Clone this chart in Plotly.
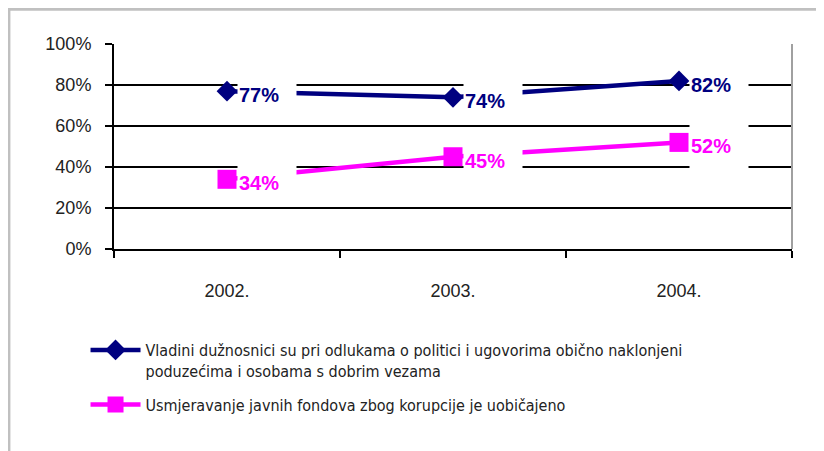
import plotly.graph_objects as go

years = ['2002.', '2003.', '2004.']
officials = [0.77, 0.74, 0.82]
funds = [0.34, 0.45, 0.52]
officials_name = 'Vladini dužnosnici su pri odlukama o politici i ugovorima obično naklonjeni<br>poduzećima i osobama s dobrim vezama'
funds_name = 'Usmjeravanje javnih fondova zbog korupcije je uobičajeno'

navy = '#000080'
pink = '#FF00FF'

fig = go.Figure()
fig.add_trace(go.Scatter(x=years, y=officials, name=officials_name, mode='lines+markers',
                         legendgroup='a',
                         line=dict(color=navy, width=4.5),
                         marker=dict(symbol='diamond', size=16, color=navy)))
fig.add_trace(go.Scatter(x=years, y=funds, name=funds_name, mode='lines+markers',
                         legendgroup='b',
                         line=dict(color=pink, width=4.5),
                         marker=dict(symbol='square', size=19, color=pink)))

# data labels with white boxes (they hide gridlines and lines like in the original)
# category index is used for x, "2002." would be read as a number
for vals, col in [(officials, navy), (funds, pink)]:
    for i, v in enumerate(vals):
        fig.add_annotation(x=i, y=v, text='%d%%' % round(v * 100), showarrow=False,
                           xanchor='left', xshift=10, yshift=-4, width=56, height=42,
                           align='left', bgcolor='white', borderpad=1,
                           font=dict(family='Liberation Sans', size=20, color=col, weight='bold'))

# plot area right border + outer frame (the svg starts 8px into the page)
fig.add_shape(type='line', xref='paper', yref='paper', x0=1, x1=1, y0=0, y1=1,
              line=dict(color='#a0a0a0', width=2))
fig.add_shape(type='line', xref='paper', yref='paper', x0=-0.16, x1=1.06, y0=1.17, y1=1.17,
              line=dict(color='#c0c0c0', width=3))
fig.add_shape(type='line', xref='paper', yref='paper', x0=-0.155, x1=-0.155, y0=1.18, y1=-1.0,
              line=dict(color='#c0c0c0', width=3))

fig.update_xaxes(type='category', range=[-0.5, 2.5], tickson='boundaries', ticks='outside', ticklen=7,
                 tickwidth=2, tickcolor='black', showline=True, linecolor='black', linewidth=2,
                 showgrid=False, ticklabelstandoff=24, tickangle=0,
                 tickfont=dict(family='Liberation Sans', size=18, color='#222'))
fig.update_yaxes(range=[0, 1], dtick=0.2, tickformat='.0%', ticks='outside', ticklen=7,
                 tickwidth=2, tickcolor='black', showline=True, linecolor='black', linewidth=2,
                 showgrid=True, gridcolor='black', gridwidth=2, zeroline=False,
                 ticklabelstandoff=10,
                 tickfont=dict(family='Liberation Sans', size=18, color='#222'))

fig.update_layout(width=824, height=451, margin=dict(l=106, r=40, t=36, b=210),
                  plot_bgcolor='white', paper_bgcolor='white',
                  legend=dict(x=-0.042, y=-0.41, xanchor='left', yanchor='top',
                              valign='top', traceorder='grouped', tracegroupgap=10,
                              itemwidth=50,
                              font=dict(family='DejaVu Sans Condensed, Roboto', size=16, color='#222')))

fig.write_html('out.html')
